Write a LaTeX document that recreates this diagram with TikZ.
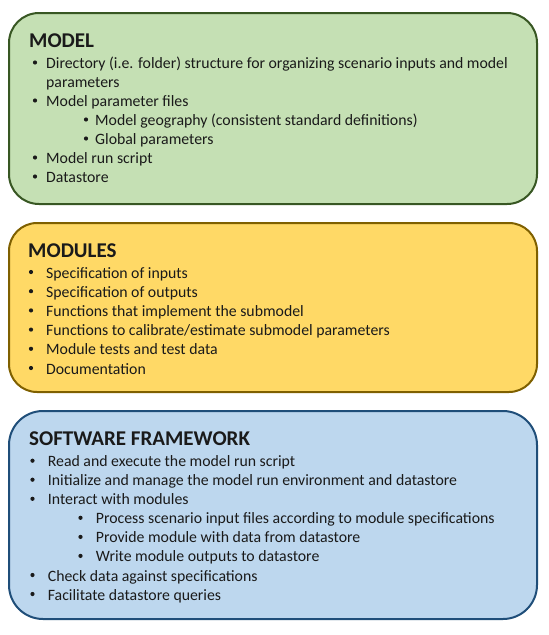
\documentclass[tikz,border=0pt]{standalone}
\usepackage{fontspec}
\setmainfont{Carlito}
\definecolor{greenfill}{HTML}{C5E0B4}
\definecolor{greenline}{HTML}{385723}
\definecolor{yellowfill}{HTML}{FFD966}
\definecolor{yellowline}{HTML}{7F6000}
\definecolor{bluefill}{HTML}{BDD7EE}
\definecolor{blueline}{HTML}{1F4E79}
\definecolor{ink}{HTML}{1A1A1A}
\tikzset{
  panel/.style={draw, line width=2pt, inner sep=0pt, minimum width=528pt},
  heading/.style={anchor=base west, inner sep=0pt, text=ink, font=\fontsize{21}{25}\selectfont\bfseries},
  item/.style={anchor=base west, inner sep=0pt, text=ink, font=\fontsize{15.8}{19}\selectfont},
  dot/.style={circle, fill=ink, inner sep=0pt, minimum size=4.2pt},
}
\newcommand{\bulletline}[5]{%
  % #1 name, #2 bullet x, #3 text x, #4 baseline y, #5 text
  \node[dot] (#1b) at (#2,#4-6) {};
  \node[item] (#1) at (#3,#4) {#5};
}
\begin{document}
\begin{tikzpicture}[x=1pt,y=-1pt]
\useasboundingbox (0,0) rectangle (549,635);

% Model panel
\node[panel, fill=greenfill, draw=greenline, rounded corners=30pt, minimum height=191pt] (model) at (273,108.5) {};
\node[heading] (modelhead) at (29,47.7) {MODEL};
\bulletline{m1}{35}{46}{68.5}{Directory (i.e. folder) structure for organizing scenario inputs and model}
\node[item] (m1b2) at (46,87.5) {parameters};
\bulletline{m2}{35}{46}{106.5}{Model parameter files}
\bulletline{m3}{86}{95}{125.5}{Model geography (consistent standard definitions)}
\bulletline{m4}{86}{95}{144.5}{Global parameters}
\bulletline{m5}{35}{46}{163.5}{Model run script}
\bulletline{m6}{35}{46}{182.5}{Datastore}

% Modules panel
\node[panel, fill=yellowfill, draw=yellowline, rounded corners=28pt, minimum height=169pt] (modules) at (273,307.5) {};
\node[heading] (modhead) at (28,257) {MODULES};
\bulletline{d1}{31}{46}{278}{Specification of inputs}
\bulletline{d2}{31}{46}{297.2}{Specification of outputs}
\bulletline{d3}{31}{46}{316.4}{Functions that implement the submodel}
\bulletline{d4}{31}{46}{335.6}{Functions to calibrate/estimate submodel parameters}
\bulletline{d5}{31}{46}{354.8}{Module tests and test data}
\bulletline{d6}{31}{46}{374}{Documentation}

% Software framework panel
\node[panel, fill=bluefill, draw=blueline, rounded corners=34pt, minimum height=208pt] (framework) at (273,515) {};
\node[heading] (fwhead) at (29,445.7) {SOFTWARE FRAMEWORK};
\bulletline{f1}{32.5}{47.7}{466.7}{Read and execute the model run script}
\bulletline{f2}{32.5}{47.7}{485.7}{Initialize and manage the model run environment and datastore}
\bulletline{f3}{32.5}{47.7}{504.8}{Interact with modules}
\bulletline{f4}{80.5}{95.7}{523.8}{Process scenario input files according to module specifications}
\bulletline{f5}{80.5}{95.7}{542.9}{Provide module with data from datastore}
\bulletline{f6}{80.5}{95.7}{561.9}{Write module outputs to datastore}
\bulletline{f7}{32.5}{47.7}{581}{Check data against specifications}
\bulletline{f8}{32.5}{47.7}{600}{Facilitate datastore queries}
\end{tikzpicture}
\end{document}
